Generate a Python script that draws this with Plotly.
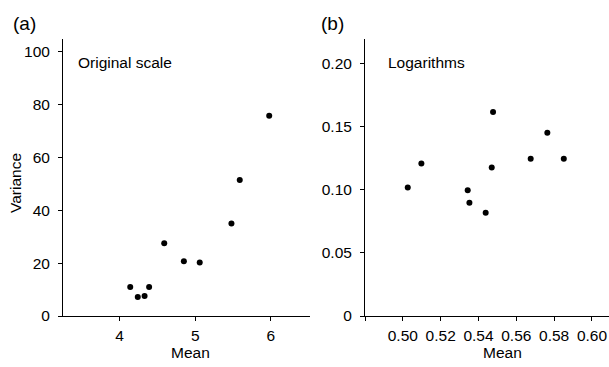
import plotly.graph_objects as go

W, H = 609, 367

# Panel (a): original scale
mean_a = [4.14, 4.24, 4.33, 4.39, 4.59, 4.85, 5.06, 5.48, 5.59, 5.98]
var_a = [11.0, 7.2, 7.6, 11.0, 27.5, 20.7, 20.2, 35.0, 51.5, 75.8]

# Panel (b): logarithms
mean_b = [0.5026, 0.5098, 0.5343, 0.5352, 0.5438, 0.5470, 0.5477, 0.5676, 0.5764, 0.5851]
var_b = [0.1018, 0.1209, 0.0996, 0.0898, 0.0818, 0.1177, 0.1618, 0.1246, 0.1453, 0.1246]

xticks_a = [4, 5, 6]
yticks_a = [0, 20, 40, 60, 80, 100]
xticks_b = [0.48, 0.50, 0.52, 0.54, 0.56, 0.58, 0.60]
xticktext_b = ["", "0.50", "0.52", "0.54", "0.56", "0.58", "0.60"]
yticks_b = [0, 0.05, 0.10, 0.15, 0.20]
yticktext_b = ["0", "0.05", "0.10", "0.15", "0.20"]

FONT = "Liberation Sans, Arial, Helvetica, sans-serif"
FS = 15.5

def px_x(p):
    return p / W

def px_y(p):
    return 1 - p / H

fig = go.Figure()
fig.add_trace(go.Scatter(x=mean_a, y=var_a, mode="markers",
                         marker=dict(color="black", size=6), xaxis="x", yaxis="y",
                         showlegend=False))
fig.add_trace(go.Scatter(x=mean_b, y=var_b, mode="markers",
                         marker=dict(color="black", size=6), xaxis="x2", yaxis="y2",
                         showlegend=False))

axis_common = dict(showline=True, linecolor="black", linewidth=1, showgrid=False,
                   zeroline=False, ticks="outside", ticklen=4, tickwidth=1,
                   tickcolor="black", automargin=False,
                   tickfont=dict(family=FONT, size=FS, color="black"))

ydom = [px_y(316), px_y(38.5)]

fig.update_layout(
    width=W, height=H,
    margin=dict(l=0, r=0, t=0, b=0),
    paper_bgcolor="white", plot_bgcolor="white",
    font=dict(family=FONT, size=FS, color="black"),
    xaxis=dict(domain=[px_x(63), px_x(310)], range=[3.25, 6.52], tickvals=xticks_a,
               anchor="y", ticklabelstandoff=1, **axis_common),
    yaxis=dict(domain=ydom, range=[0, 105], tickvals=yticks_a, anchor="x",
               ticklabelstandoff=5, **axis_common),
    xaxis2=dict(domain=[px_x(365), 1.0], range=[0.48, 0.609], tickvals=xticks_b,
                ticktext=xticktext_b, anchor="y2", ticklabelstandoff=1, **axis_common),
    yaxis2=dict(domain=ydom, range=[0, 0.22], tickvals=yticks_b, ticktext=yticktext_b,
                anchor="x2", ticklabelstandoff=5, **axis_common),
)

ann = []
def text(x, y, s, size=FS, xanchor="left", yanchor="middle", angle=0):
    ann.append(dict(x=px_x(x), y=px_y(y), xref="paper", yref="paper", text=s,
                    showarrow=False, xanchor=xanchor, yanchor=yanchor, textangle=angle,
                    font=dict(family=FONT, size=size, color="black")))

text(11, 23, "(a)", size=19)
text(319, 23, "(b)", size=19)
text(76, 63, "Original scale")
text(386, 63, "Logarithms")
text(190, 352, "Mean", xanchor="center")
text(502, 352, "Mean", xanchor="center")
text(16, 183, "Variance", xanchor="center", angle=-90)

fig.update_layout(annotations=ann)
fig.write_html("out.html")
